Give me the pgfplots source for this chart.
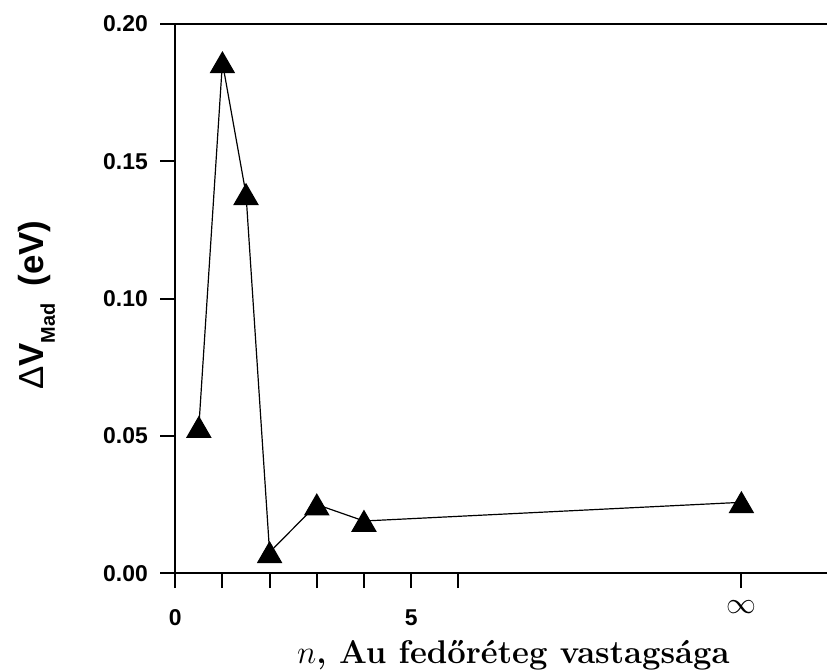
\RequirePackage{fix-cm}
\documentclass[border=0pt]{standalone}
\usepackage{fontspec}
\setsansfont{Liberation Sans}
\usepackage{pgfplots}
\pgfplotsset{compat=1.18}
\begin{document}
\begin{tikzpicture}
\begin{axis}[
  at={(0,0)}, anchor=south west,
  scale only axis, width=652.5bp, height=550bp,
  xmin=0, xmax=13.81, ymin=0, ymax=0.2,
  axis x line*=box, axis y line*=left,
  xtick pos=bottom, ytick pos=left,
  axis line style={line width=2.4bp, black},
  tick align=outside, major tick length=15bp,
  every tick/.style={black, line width=2bp},
  xtick={0,1,2,3,4,5,6},
  xticklabels={0,,,,,5,},
  extra x ticks={12},
  extra x tick labels={{\fontsize{30}{30}\selectfont$\infty$}},
  extra x tick style={xticklabel style={yshift=9bp}},
  ytick={0,0.05,0.10,0.15,0.20},
  /pgf/number format/.cd, fixed, fixed zerofill, precision=2, assume math mode=true,
  /pgfplots/.cd,
  tick label style={font=\sffamily\bfseries\fontsize{23}{26}\selectfont},
  yticklabel style={xshift=-9bp},
  xticklabel style={yshift=-18bp},
  xlabel={\fontsize{33}{38}\selectfont\bfseries $n$, Au fedőréteg vastagsága},
  xlabel style={at={(axis description cs:0.519,-0.1636)}, anchor=base, inner sep=0pt},
  ylabel={\sffamily\bfseries\fontsize{35}{40}\selectfont{\mdseries Δ}V\raisebox{-11bp}{\fontsize{20}{22}\selectfont Mad}\hspace{0.5em}(eV)},
  ylabel style={at={(axis description cs:-0.2015,0.488)}, anchor=base, inner sep=0pt},
  clip=false,
]
\addplot[black, line width=1.2bp, mark=triangle*, mark size=13.6bp,
  mark options={solid, fill=black, yshift=-3.4bp}]
  coordinates {(0.5,0.0532) (1,0.186) (1.5,0.138) (2,0.0076) (3,0.025) (4,0.019) (12,0.0258)};
\end{axis}
\path (-175.5bp,-96bp) rectangle (652.5bp,574bp);
\end{tikzpicture}
\end{document}
